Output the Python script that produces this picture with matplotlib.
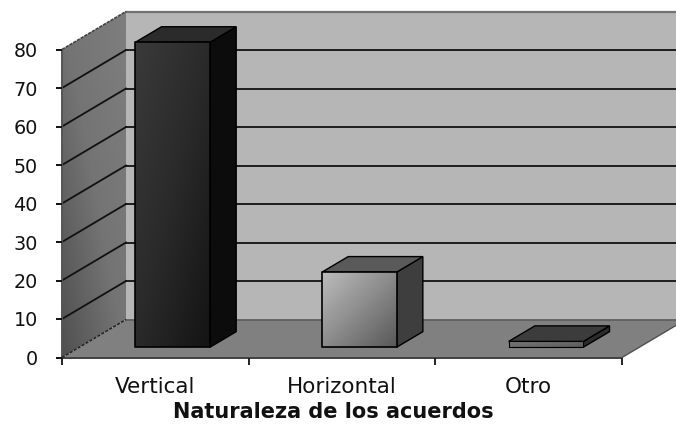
import numpy as np
import matplotlib
matplotlib.use("Agg")
import matplotlib.pyplot as plt
from matplotlib.patches import Polygon
from matplotlib.colors import LinearSegmentedColormap as LSC

categories = ["Vertical", "Horizontal", "Otro"]
values = [79.2, 19.5, 1.5]
y_ticks = [0, 10, 20, 30, 40, 50, 60, 70, 80]
x_label = "Naturaleza de los acuerdos"

W, H = 676, 424
L, R, T, B = 62, 622, 49.5, 357.5
DX, DY = 64, 38
n = len(categories)
ppx = (R - L) / n
ppy = (B - T) / 80
FONT = "DejaVu Sans"

fig = plt.figure(figsize=(W / 100, H / 100), dpi=100, facecolor="white")
ax = fig.add_axes([L / W, 1 - B / H, (R - L) / W, (B - T) / H])
ax.set_facecolor("none")
ax.set_xlim(0, n)
ax.set_ylim(0, 80)
for s in ax.spines.values():
    s.set_visible(False)


def P(c, v, d):
    """category position, value, depth (0 front - 1 back) -> data coords"""
    return (c + d * DX / ppx, v + d * DY / ppy)


def gradient_face(corners, colors, ec="black", lw=1.2, z=2, flip=False):
    pts = np.array(corners)
    x0, x1 = pts[:, 0].min(), pts[:, 0].max()
    y0, y1 = pts[:, 1].min(), pts[:, 1].max()
    xx, yy = np.meshgrid(np.linspace(0, 1, 64), np.linspace(0, 1, 64))
    g = ((1 - xx) + yy) / 2 if flip else (xx + yy) / 2
    im = ax.imshow(g, extent=(x0, x1, y0, y1), origin="upper",
                   aspect="auto", cmap=LSC.from_list("g", colors),
                   vmin=0, vmax=1, zorder=z, interpolation="bilinear")
    ax.add_patch(Polygon(pts, closed=True, fc="none", ec=ec, lw=lw, zorder=z + 0.1,
                         clip_on=False, joinstyle="round"))
    im.set_clip_path(Polygon(pts, closed=True, transform=ax.transData))
    im.set_clip_box(fig.bbox)


def flat(corners, color, ec="none", lw=0, z=1):
    ax.add_patch(Polygon(np.array(corners), closed=True, fc=color, ec=ec, lw=lw, zorder=z, clip_on=False))


EXT = n + 0.5
# back wall
flat([P(0, 0, 1), P(EXT, 0, 1), P(EXT, 80, 1), P(0, 80, 1)], "#b6b6b6", z=1)
ax.plot(*zip(P(0, 80, 1), P(EXT, 80, 1)), color="#707070", lw=1.6, clip_on=False, zorder=1.2)
# side wall
gradient_face([P(0, 0, 0), P(0, 0, 1), P(0, 80, 1), P(0, 80, 0)],
              ["#7e7e7e", "#747474", "#505050"], ec="none", lw=0, z=1, flip=True)
ax.plot(*zip(P(0, 80, 0), P(0, 80, 1)), color="#444444", lw=1.2, ls=(0, (2, 0.6)), clip_on=False, zorder=1.5)
ax.plot(*zip(P(0, 0, 0), P(0, 80, 0)), color="#555555", lw=1.4, clip_on=False, zorder=1.5)
# floor
flat([P(0, 0, 0), P(n, 0, 0), P(n, 0, 1), P(0, 0, 1)], "#808080", z=1.1)
ax.plot(*zip(P(0, 0, 1), P(EXT, 0, 1)), color="#5c5c5c", lw=1.2, clip_on=False, zorder=1.2)
ax.plot(*zip(P(0, 0, 0), P(n, 0, 0)), color="#404040", lw=1.4, clip_on=False, zorder=1.3)
ax.plot(*zip(P(n, 0, 0), P(n, 0, 1)), color="#505050", lw=1.0, clip_on=False, zorder=1.3)
ax.plot(*zip(P(0, 0, 0), P(0, 0, 1)), color="#222222", lw=1.1, ls=(0, (2, 1)), clip_on=False, zorder=1.5)

# gridlines
for v in y_ticks[1:-1]:
    ax.plot(*zip(P(0, v, 0), P(0, v, 1)), color="#111111", lw=1.3, clip_on=False, zorder=1.4)
    ax.plot(*zip(P(0, v, 1), P(EXT, v, 1)), color="#111111", lw=1.3, clip_on=False, zorder=1.4)

# bars
d0, d1 = 0.27, 0.68
w = 0.2
styles = [
    dict(front=["#3a3a3a", "#2a2a2a", "#141414"], top="#2b2b2b", side="#0c0c0c", lw=1.2),
    dict(front=["#bdbdbd", "#8c8c8c", "#585858"], top="#5a5a5a", side="#3e3e3e", lw=1.2),
    dict(front=["#787878", "#6a6a6a", "#5a5a5a"], top="#3c3c3c", side="#2b2b2b", lw=0.8),
]
for i, (val, st) in enumerate(zip(values, styles)):
    a, b = i + 0.5 - w, i + 0.5 + w
    flat([P(b, 0, d0), P(b, 0, d1), P(b, val, d1), P(b, val, d0)], st["side"], ec="black", lw=1.0, z=2)
    flat([P(a, val, d0), P(b, val, d0), P(b, val, d1), P(a, val, d1)], st["top"], ec="black", lw=1.0, z=2)
    gradient_face([P(a, 0, d0), P(b, 0, d0), P(b, val, d0), P(a, val, d0)], st["front"], lw=st["lw"], z=2.2)

ax.set_xlim(0, n)
ax.set_ylim(0, 80)
ax.set_yticks(y_ticks)
ax.set_yticklabels([str(t) for t in y_ticks], fontsize=13.8, family=FONT, color="#111111")
ax.set_xticks(range(n + 1))
ax.set_xticklabels([])
ax.set_xticks(np.arange(n) + 0.5, categories, minor=True, fontsize=15.5, family=FONT, color="#111111")
ax.tick_params(axis="y", length=4, width=1.4, pad=13.5, color="#111111")
ax.tick_params(axis="x", which="major", length=5, width=1.4, color="#222222")
ax.tick_params(axis="x", which="minor", length=0, pad=14)
ax.set_xlabel(x_label, fontsize=15, family=FONT, fontweight="bold", va="center", color="#111111")
ax.xaxis.set_label_coords((333 - L) / (R - L), -(412 - B) / (B - T), transform=ax.transAxes)
fig.savefig("out.png", dpi=100)
